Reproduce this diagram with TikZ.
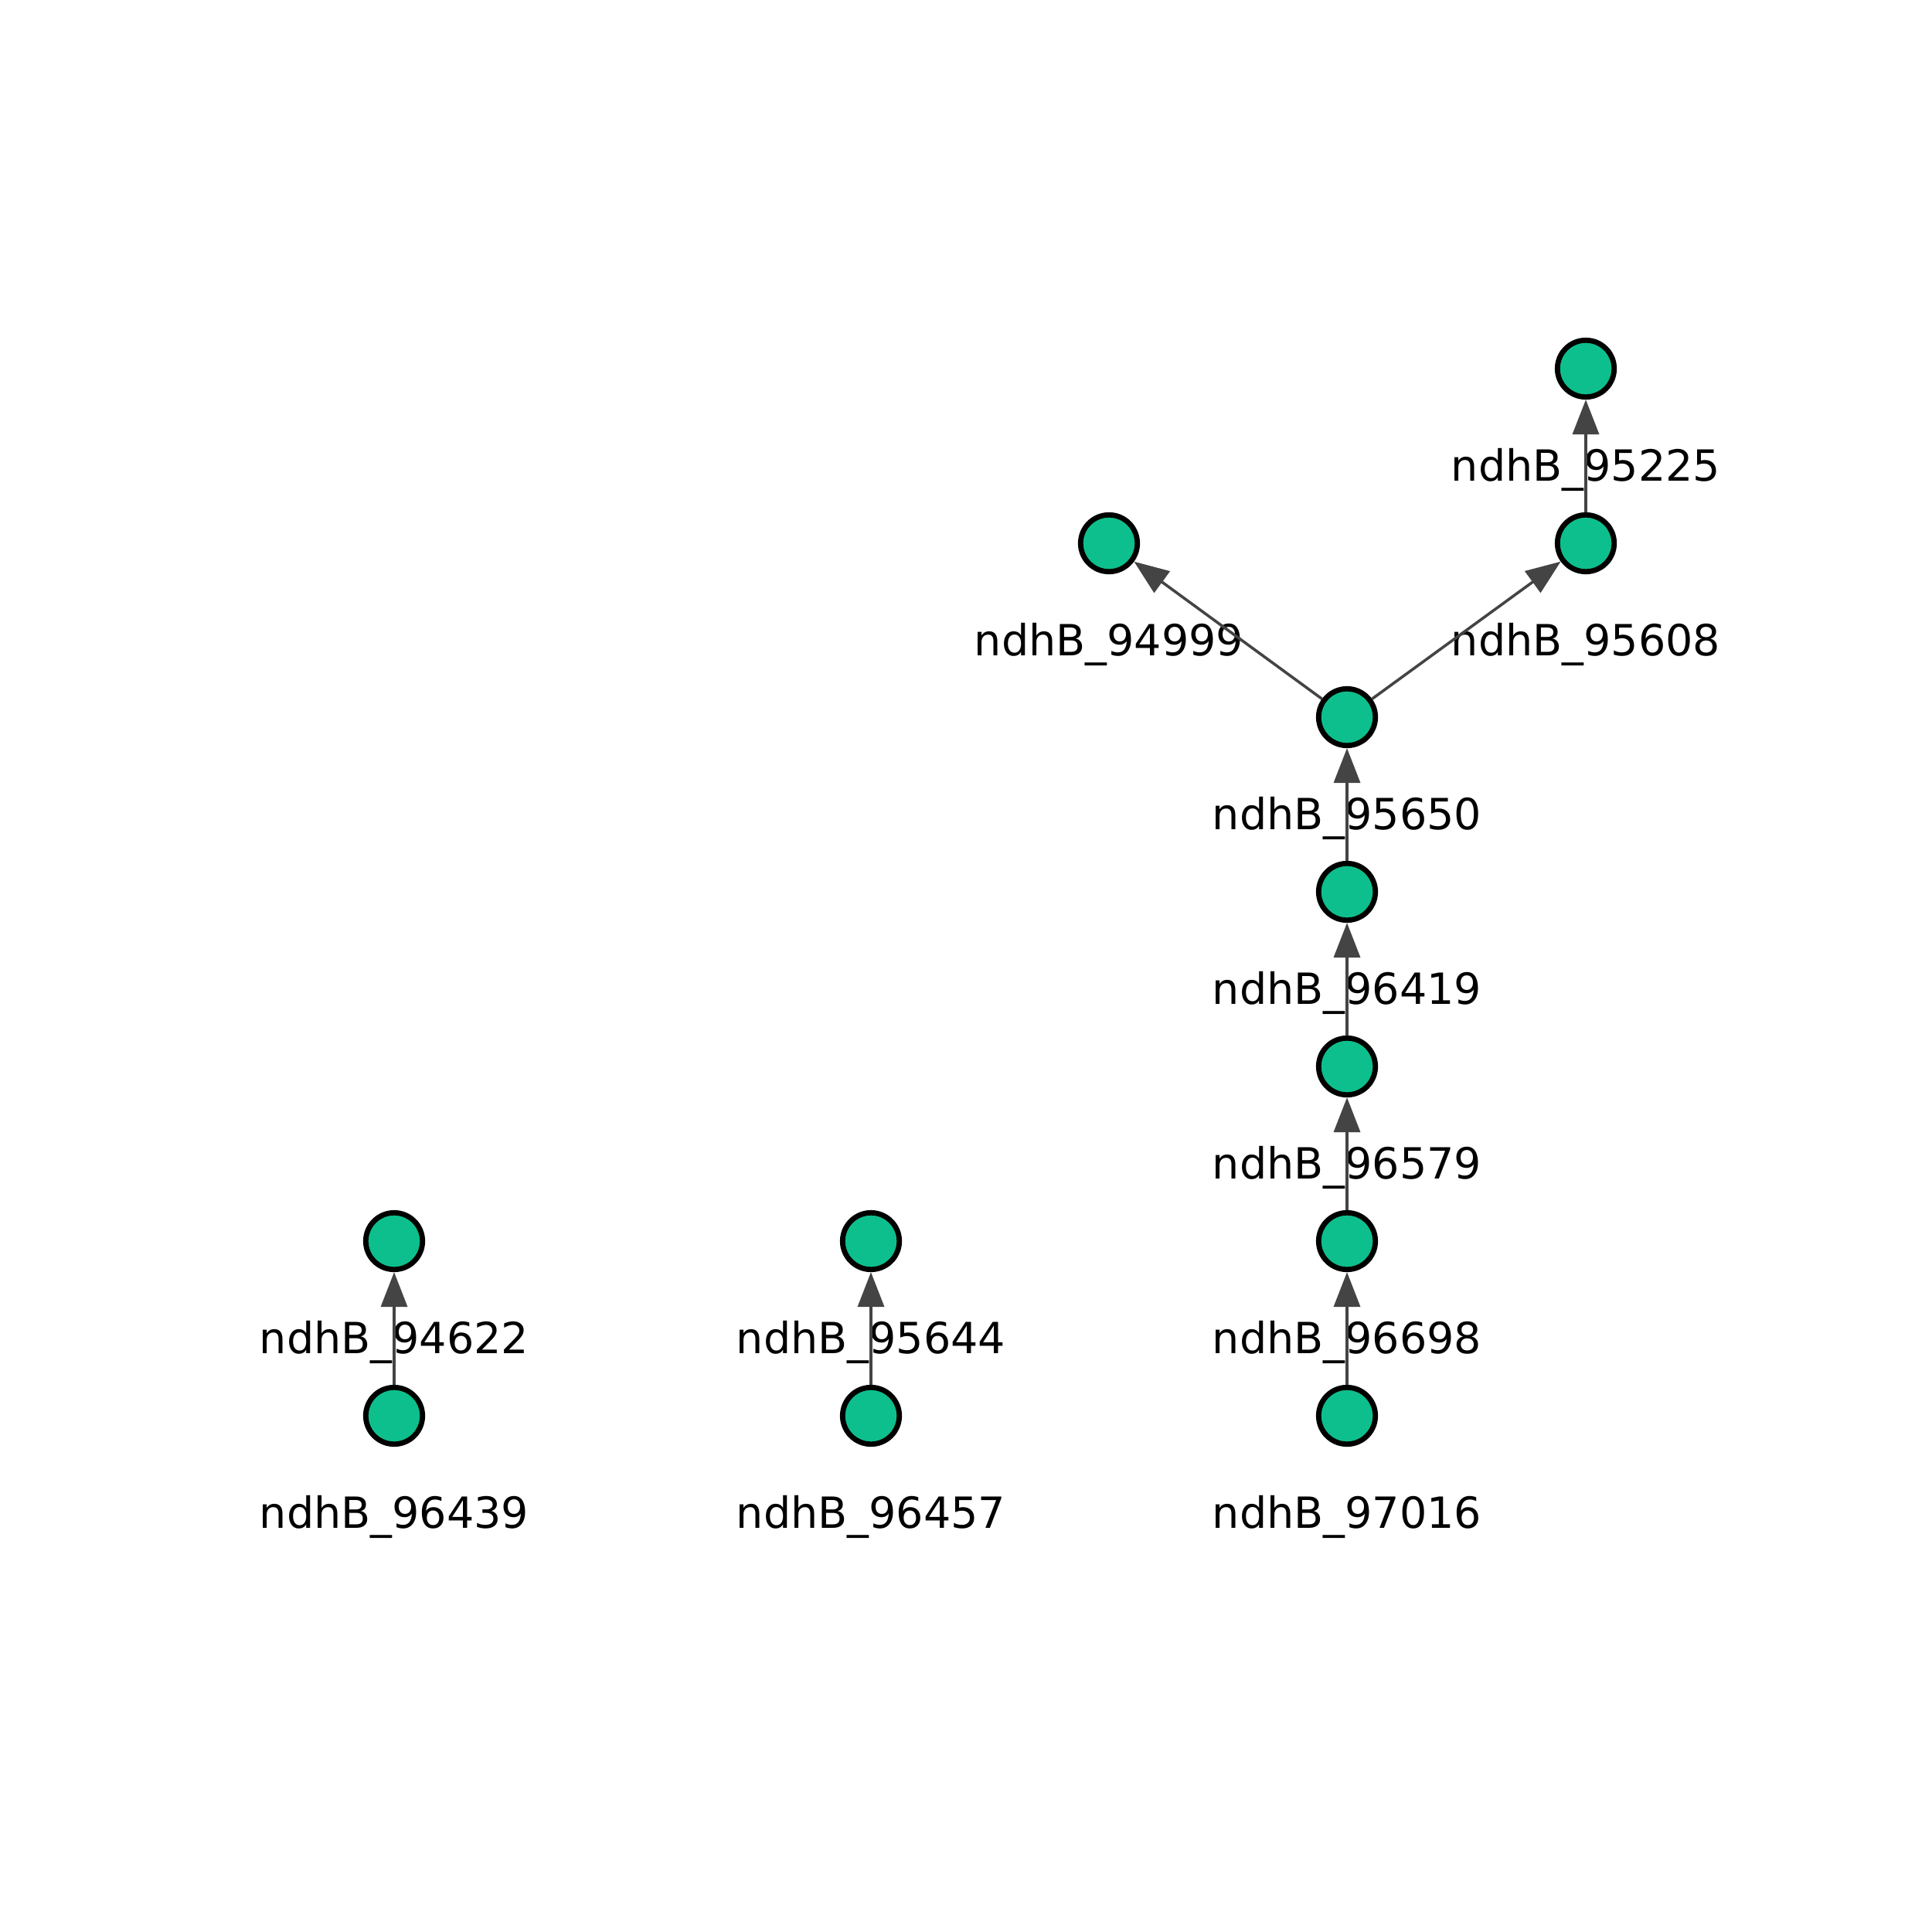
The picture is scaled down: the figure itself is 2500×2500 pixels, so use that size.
\documentclass[tikz,border=0pt]{standalone}
\usepackage{fontspec}
\setmainfont{DejaVu Sans}
\usetikzlibrary{arrows.meta}
\definecolor{nodegreen}{RGB}{13,191,140}
\definecolor{edgegray}{RGB}{68,68,68}
\begin{document}
\begin{tikzpicture}[x=0.01cm,y=-0.01cm,
  vert/.style={circle, draw=black, fill=nodegreen, line width=0.068cm,
    minimum size=0.734cm, inner sep=0pt},
  lbl/.style={anchor=base, font=\fontsize{15.8pt}{19pt}\selectfont, inner sep=0pt},
  link/.style={draw=edgegray, line width=0.036cm,
    -{Triangle[length=0.45cm,width=0.34cm]}}]
\useasboundingbox (0,0) rectangle (2500,2500);

% labels, set below each vertex
\foreach \x/\y/\t in {2052/477/95225, 2052/703/95608, 1435/703/94999,
    1743/928/95650, 1743/1154/96419, 1743/1380/96579, 1743/1606/96698,
    1743/1832/97016, 510/1606/94622, 510/1832/96439,
    1127/1606/95644, 1127/1832/96457}
  \node[lbl] (l\t) at (\x,\y+145) {ndhB\_\t};

% vertices
\node[vert] (v95225) at (2052,477) {};
\node[vert] (v95608) at (2052,703) {};
\node[vert] (v94999) at (1435,703) {};
\node[vert] (v95650) at (1743,928) {};
\node[vert] (v96419) at (1743,1154) {};
\node[vert] (v96579) at (1743,1380) {};
\node[vert] (v96698) at (1743,1606) {};
\node[vert] (v97016) at (1743,1832) {};
\node[vert] (v94622) at (510,1606) {};
\node[vert] (v96439) at (510,1832) {};
\node[vert] (v95644) at (1127,1606) {};
\node[vert] (v96457) at (1127,1832) {};

% directed edges
\draw[link] (v95608) -- (v95225);
\draw[link] (v95650) -- (v95608);
\draw[link] (v95650) -- (v94999);
\draw[link] (v96419) -- (v95650);
\draw[link] (v96579) -- (v96419);
\draw[link] (v96698) -- (v96579);
\draw[link] (v97016) -- (v96698);
\draw[link] (v96439) -- (v94622);
\draw[link] (v96457) -- (v95644);
\end{tikzpicture}
\end{document}
